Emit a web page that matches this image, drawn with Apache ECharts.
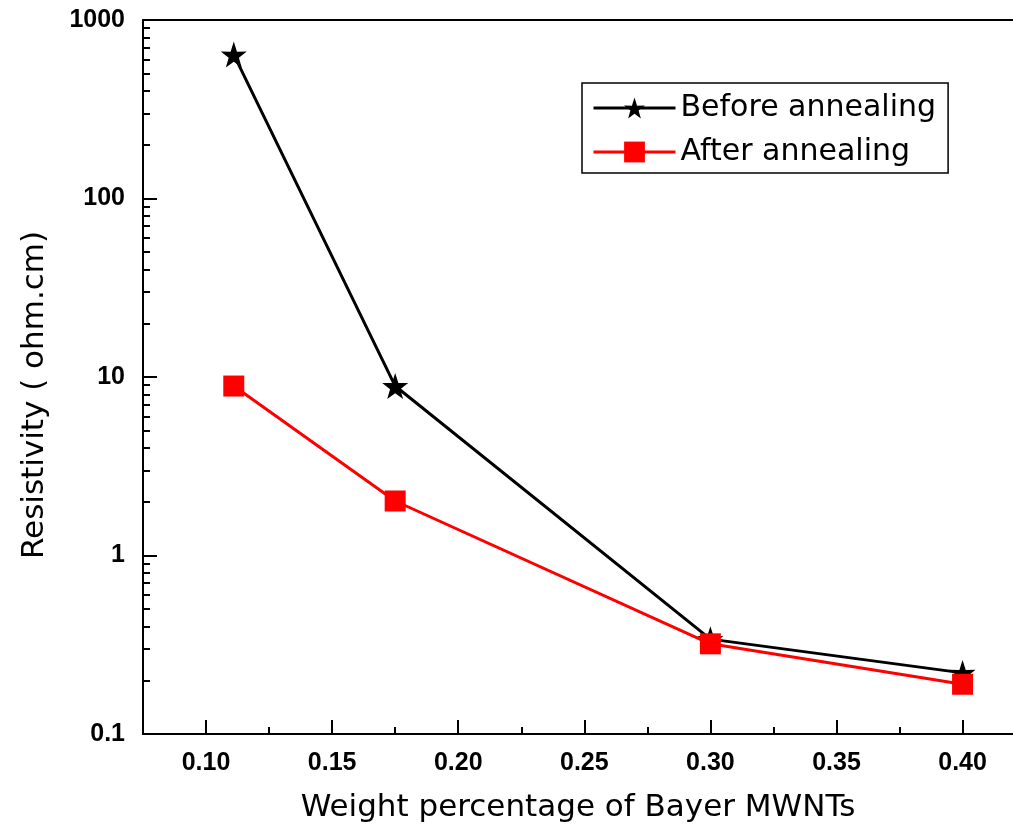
<!DOCTYPE html>
<html>
<head>
<meta charset="utf-8">
<script src="https://cdn.jsdelivr.net/npm/echarts@6/dist/echarts.min.js"></script>
<style>html,body{margin:0;padding:0;background:#fff;}#c{width:1013px;height:833px;}</style>
</head>
<body>
<div id="c"></div>
<script>
var xBefore = [0.111, 0.175, 0.300, 0.400];
var yBefore = [640, 8.9, 0.34, 0.22];
var xAfter = [0.111, 0.175, 0.300, 0.400];
var yAfter = [8.9, 2.02, 0.32, 0.19];
var xMajorTicks = [0.10, 0.15, 0.20, 0.25, 0.30, 0.35, 0.40];
var xMinorTicks = [0.125, 0.175, 0.225, 0.275, 0.325, 0.375];
var yDecades = [-1, 0, 1, 2];
var seriesNames = ['Before annealing', 'After annealing'];

var yMinor = [];
yDecades.forEach(function (d) {
  for (var k = 2; k <= 9; k++) yMinor.push(d + Math.log10(k));
});

var star = 'path://M50,0 L61.8,35.1 L98.1,34.5 L68.9,56.2 L79.4,90.5 L50,70 L20.6,90.5 L31.1,56.2 L1.9,34.5 L38.2,35.1 Z';
var font = '"Liberation Sans", Arial, sans-serif';
var titleFont = '"DejaVu Sans", sans-serif';

function pairs(xs, ys) { return xs.map(function (x, i) { return [x, ys[i]]; }); }

var chart = echarts.init(document.getElementById('c'), null, {renderer: 'canvas'});
chart.setOption({
  animation: false,
  backgroundColor: '#fff',
  grid: {left: 143, top: 20, right: 0, bottom: 99, containLabel: false},
  legend: {
    orient: 'vertical', left: 582, top: 83,
    data: seriesNames,
    borderColor: '#000', borderWidth: 1.5,
    padding: [10, 12, 6, 10],
    itemWidth: 82, itemHeight: 26, itemGap: 14,
    lineStyle: {width: 3},
    textStyle: {fontFamily: titleFont, fontSize: 30, color: '#000'}
  },
  xAxis: [
    {
      type: 'value', min: 0.075, max: 0.42, position: 'bottom',
      name: 'Weight percentage of Bayer MWNTs', nameLocation: 'middle', nameGap: 58,
      nameTextStyle: {fontFamily: titleFont, fontSize: 31, color: '#000'},
      axisLine: {show: true, onZero: false, lineStyle: {color: '#000', width: 2}},
      axisTick: {show: true, inside: true, length: 14, lineStyle: {color: '#000', width: 2}, customValues: xMajorTicks},
      axisLabel: {show: true, customValues: xMajorTicks, margin: 17, color: '#000', fontFamily: font, fontWeight: 'bold', fontSize: 25,
        formatter: function (v) { return v.toFixed(2); }},
      splitLine: {show: false}
    },
    {
      type: 'value', min: 0.075, max: 0.42, position: 'bottom',
      axisLine: {show: false, onZero: false},
      axisTick: {show: true, inside: true, length: 7, lineStyle: {color: '#000', width: 2}, customValues: xMinorTicks},
      axisLabel: {show: false},
      splitLine: {show: false}
    },
    {
      type: 'value', min: 0.075, max: 0.42, position: 'top',
      axisLine: {show: true, onZero: false, lineStyle: {color: '#000', width: 2}},
      axisTick: {show: false}, axisLabel: {show: false}, splitLine: {show: false}
    }
  ],
  yAxis: [
    {
      type: 'log', logBase: 10, min: 0.1, max: 1000, position: 'left',
      name: 'Resistivity ( ohm.cm)', nameLocation: 'middle', nameGap: 93,
      nameTextStyle: {fontFamily: titleFont, fontSize: 31, color: '#000', padding: [0, 36, 0, 0]},
      axisLine: {show: true, onZero: false, lineStyle: {color: '#000', width: 2}},
      axisTick: {show: true, inside: true, length: 14, lineStyle: {color: '#000', width: 2}},
      axisLabel: {margin: 18, color: '#000', fontFamily: font, fontWeight: 'bold', fontSize: 25,
        formatter: function (v) { return v < 1 ? v.toFixed(1) : String(Math.round(v)); }},
      splitLine: {show: false}
    },
    {
      type: 'value', min: -1, max: 3, position: 'left',
      axisLine: {show: false, onZero: false},
      axisTick: {show: true, inside: true, length: 7, lineStyle: {color: '#000', width: 2}, customValues: yMinor},
      axisLabel: {show: false}, splitLine: {show: false}
    }
  ],
  series: [
    {
      name: seriesNames[0], type: 'line', xAxisIndex: 0, yAxisIndex: 0,
      data: pairs(xBefore, yBefore),
      symbol: star, symbolSize: 26,
      lineStyle: {color: '#000', width: 3},
      itemStyle: {color: '#000'}, z: 2
    },
    {
      name: seriesNames[1], type: 'line', xAxisIndex: 0, yAxisIndex: 0,
      data: pairs(xAfter, yAfter),
      symbol: 'rect', symbolSize: 21,
      lineStyle: {color: '#ff0000', width: 3},
      itemStyle: {color: '#ff0000'}, z: 3
    }
  ]
});
</script>
</body>
</html>
